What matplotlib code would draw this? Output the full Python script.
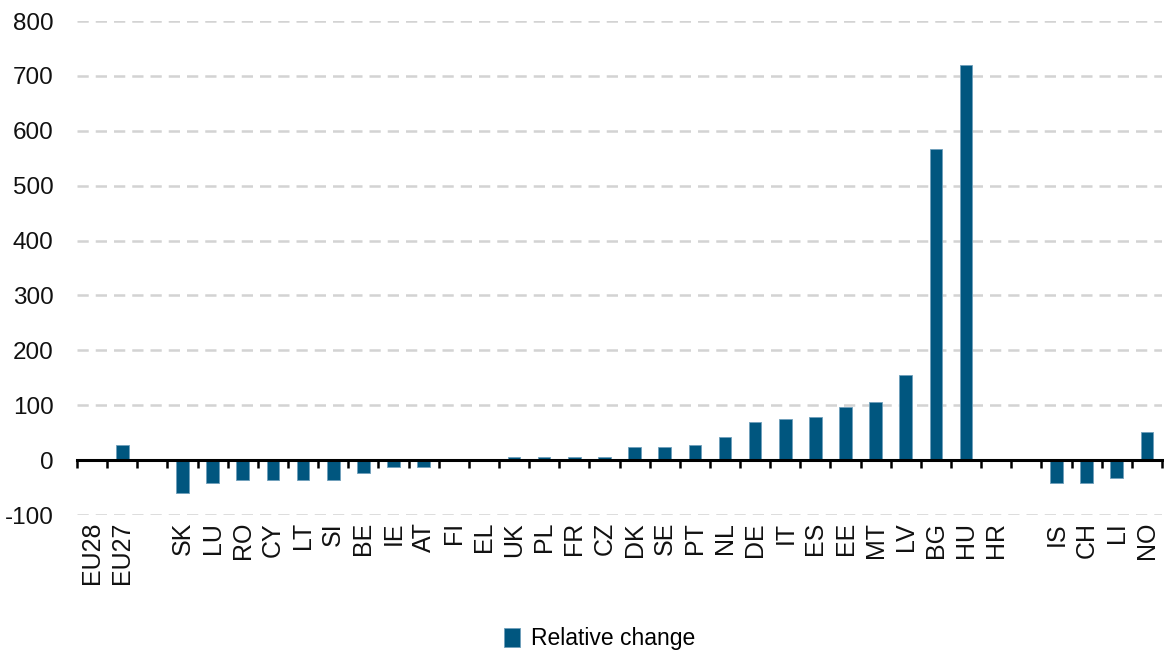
import numpy as np
import matplotlib
matplotlib.use("Agg")
import matplotlib.pyplot as plt
from matplotlib.ticker import FixedLocator

plt.rcParams['axes.unicode_minus'] = False
plt.rcParams['font.family'] = ['Liberation Sans', 'DejaVu Sans']

eu_labels = ['EU28', 'EU27']
eu_values = [np.nan, 28]
ms_labels = ['SK', 'LU', 'RO', 'CY', 'LT', 'SI', 'BE', 'IE', 'AT', 'FI', 'EL', 'UK', 'PL', 'FR',
             'CZ', 'DK', 'SE', 'PT', 'NL', 'DE', 'IT', 'ES', 'EE', 'MT', 'LV', 'BG', 'HU', 'HR']
ms_values = [-60, -41, -36, -36, -36, -36, -23, -13, -13, 0, 0, 5, 5, 5,
             5, 24, 24, 28, 42, 69, 74, 78, 97, 106, 155, 567, 720, 0]
efta_labels = ['IS', 'CH', 'LI', 'NO']
efta_values = [-41, -41, -32, 51]
series_name = 'Relative change'
yticks = [-100, 0, 100, 200, 300, 400, 500, 600, 700, 800]

bar_color = '#00567f'

# positions: groups separated by one empty slot
groups = [(eu_labels, eu_values), (ms_labels, ms_values), (efta_labels, efta_values)]
pos, labels, values = [], [], []
p = 0
for gl, gv in groups:
    for l, v in zip(gl, gv):
        pos.append(p); labels.append(l); values.append(v)
        p += 1
    p += 1
nslots = p - 1

fig = plt.figure(figsize=(11.64, 6.53), dpi=100)
ax = fig.add_axes([77/1164, 1 - 515/653, (1162-77)/1164, (515-21)/653])

ax.bar(pos, values, width=0.42, color=bar_color, edgecolor='#6f9fbb', linewidth=0.6,
       label=series_name, zorder=3)

ax.set_xlim(-0.5, nslots - 0.5)
ax.set_ylim(-100, 800)
ax.set_yticks(yticks)
for t in yticks:
    if t != 0:
        ax.axhline(t, color='#d3d3d3', lw=1.8, ls=(0, (4.5, 2.8)), zorder=1)

for s in ['top', 'right', 'left']:
    ax.spines[s].set_visible(False)
ax.spines['bottom'].set_position(('data', 0))
ax.spines['bottom'].set_linewidth(2.2)
ax.spines['bottom'].set_zorder(4)
ax.xaxis.set_major_locator(FixedLocator(np.arange(-0.5, nslots, 1.0)))
ax.tick_params(axis='x', which='major', direction='out', length=6, width=1.8,
               labelbottom=False, color='black')
ax.tick_params(axis='y', length=0, pad=17, labelsize=17.5, labelcolor='#111111')

sec = ax.secondary_xaxis('bottom')
sec.spines['bottom'].set_visible(False)
sec.set_xticks(pos)
sec.set_xticklabels(labels)
sec.tick_params(length=0, pad=5, labelrotation=90, labelsize=18, labelcolor='#111111')

fig.legend(loc='lower center', bbox_to_anchor=(0.515, -0.027), frameon=False, handlelength=0.7,
           handleheight=0.9, handletextpad=0.5, prop={'size': 16.5})

fig.savefig('out.png', dpi=100)
